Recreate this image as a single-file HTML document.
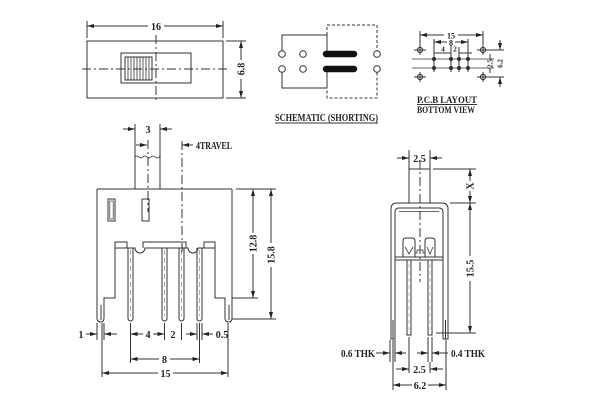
<!DOCTYPE html>
<html><head><meta charset="utf-8"><style>
html,body{margin:0;padding:0;background:#fff;}
svg{display:block;}
text{font-family:"Liberation Serif",serif;font-weight:bold;fill:#222;}
</style></head><body>
<svg width="600" height="400" viewBox="0 0 600 400" xmlns="http://www.w3.org/2000/svg">
<defs>
<marker id="a" markerWidth="7" markerHeight="4" refX="7" refY="2" orient="auto" markerUnits="userSpaceOnUse"><path d="M0,0 L7,2 L0,4 z" fill="#222"/></marker>
</defs>
<g stroke="#333" stroke-width="1" fill="none">
<!-- TOP VIEW -->
<rect x="87" y="41" width="136" height="57"/>
<line x1="87" y1="21" x2="87" y2="38"/><line x1="223" y1="21" x2="223" y2="38"/>
<line x1="148" y1="26" x2="87" y2="26" marker-end="url(#a)"/>
<line x1="164" y1="26" x2="223" y2="26" marker-end="url(#a)"/>
<rect x="121" y="53" width="70" height="30"/>
<rect x="125" y="57" width="27" height="23"/>
<g stroke-width="0.8">
<line x1="128" y1="57" x2="128" y2="80"/><line x1="131" y1="57" x2="131" y2="80"/><line x1="134" y1="57" x2="134" y2="80"/><line x1="137" y1="57" x2="137" y2="80"/><line x1="140" y1="57" x2="140" y2="80"/><line x1="143" y1="57" x2="143" y2="80"/><line x1="146" y1="57" x2="146" y2="80"/><line x1="149" y1="57" x2="149" y2="80"/>
</g>
<line x1="82" y1="69" x2="228" y2="69" stroke-dasharray="9,3,2,3"/>
<line x1="156" y1="35" x2="156" y2="103" stroke-dasharray="9,3,2,3"/>
<line x1="226" y1="41" x2="246" y2="41"/><line x1="226" y1="98" x2="246" y2="98"/>
<line x1="241" y1="60" x2="241" y2="41" marker-end="url(#a)"/>
<line x1="241" y1="79" x2="241" y2="98" marker-end="url(#a)"/>

<!-- SCHEMATIC -->
<path d="M282,50.5 V35 H327 V51"/>
<path d="M282,72.5 V88 H327 V72"/>
<path d="M327,35 V25 H377 V50.5" stroke-dasharray="3,2"/>
<path d="M377,72.5 V98 H327 V88" stroke-dasharray="3,2"/>
<line x1="326" y1="54" x2="354" y2="54" stroke="#111" stroke-width="6.5" stroke-linecap="round"/>
<line x1="326" y1="69" x2="354" y2="69" stroke="#111" stroke-width="6.5" stroke-linecap="round"/>
<g fill="#fff">
<circle cx="282" cy="54" r="3.3"/><circle cx="282" cy="69" r="3.3"/>
<circle cx="303" cy="54" r="3.3"/><circle cx="303" cy="69" r="3.3"/>
<circle cx="377" cy="54" r="3.3"/><circle cx="377" cy="69" r="3.3"/>
</g>
<line x1="275" y1="123" x2="378" y2="123"/>

<!-- PCB LAYOUT -->
<line x1="420" y1="31" x2="420" y2="46"/><line x1="483" y1="31" x2="483" y2="46"/>
<line x1="444" y1="35" x2="420" y2="35" marker-end="url(#a)"/>
<line x1="458" y1="35" x2="483" y2="35" marker-end="url(#a)"/>
<line x1="434" y1="39" x2="434" y2="56"/><line x1="468" y1="39" x2="468" y2="56"/>
<line x1="447" y1="42" x2="434" y2="42" marker-end="url(#a)"/>
<line x1="455" y1="42" x2="468" y2="42" marker-end="url(#a)"/>
<line x1="451" y1="45" x2="451" y2="56"/><line x1="459" y1="47" x2="459" y2="56"/>
<line x1="434" y1="53" x2="451" y2="53"/>
<line x1="459" y1="53" x2="472" y2="53"/>
<line x1="412" y1="59" x2="494" y2="59" stroke-width="0.8"/>
<line x1="412" y1="68" x2="494" y2="68" stroke-width="0.8"/>
<g>
<circle cx="420" cy="50" r="2.6"/><line x1="414" y1="50" x2="426" y2="50"/><line x1="420" y1="45" x2="420" y2="55"/>
<circle cx="483" cy="50" r="2.6"/><line x1="477" y1="50" x2="489" y2="50"/><line x1="483" y1="45" x2="483" y2="55"/>
<circle cx="420" cy="77" r="2.6"/><line x1="414" y1="77" x2="426" y2="77"/><line x1="420" y1="72" x2="420" y2="82"/>
<circle cx="483" cy="77" r="2.6"/><line x1="477" y1="77" x2="489" y2="77"/><line x1="483" y1="72" x2="483" y2="82"/>
</g>
<g fill="#222">
<circle cx="434" cy="59" r="1.6"/><circle cx="451" cy="59" r="1.6"/><circle cx="459" cy="59" r="1.6"/><circle cx="468" cy="59" r="1.6"/>
<circle cx="434" cy="68" r="1.6"/><circle cx="451" cy="68" r="1.6"/><circle cx="459" cy="68" r="1.6"/><circle cx="468" cy="68" r="1.6"/>
</g>
<line x1="434" y1="55" x2="434" y2="72"/><line x1="451" y1="56" x2="451" y2="72"/><line x1="459" y1="56" x2="459" y2="72"/><line x1="468" y1="56" x2="468" y2="72"/>
<line x1="486" y1="50" x2="504" y2="50"/><line x1="486" y1="77" x2="504" y2="77"/>
<line x1="500" y1="40" x2="500" y2="50" marker-end="url(#a)"/>
<line x1="500" y1="87" x2="500" y2="77" marker-end="url(#a)"/>
<line x1="490" y1="54" x2="490" y2="59"/><line x1="490" y1="73" x2="490" y2="68"/>
<line x1="417" y1="104.5" x2="477" y2="104.5"/>

<!-- FRONT VIEW -->
<line x1="97" y1="189" x2="232" y2="189"/>
<path d="M97,189 V318 Q97,322 100.5,322 Q104,322 104,318 V298 H115 V242"/>
<path d="M232,189 V318 Q232,322 228.5,322 Q225,322 225,318 V298 H215 V242"/>
<line x1="101" y1="305" x2="101" y2="320"/><line x1="229" y1="305" x2="229" y2="320"/>
<rect x="115" y="242" width="12" height="6"/>
<rect x="204" y="242" width="11" height="6"/>
<path d="M143,248 V242 H186 V248"/>
<path d="M115,248 H135 A5,5 0 0 0 145,248 H188 A5,5 0 0 0 198,248 H215"/>
<g>
<path d="M128,248 V318 Q128,321 130.5,321 Q133,321 133,318 V248"/>
<path d="M162,248 V318 Q162,321 164.5,321 Q167,321 167,318 V248"/>
<path d="M179,248 V318 Q179,321 181.5,321 Q184,321 184,318 V248"/>
<path d="M197,248 V318 Q197,321 199.5,321 Q202,321 202,318 V248"/>
</g>
<g stroke="#999" stroke-dasharray="5,3" stroke-width="0.8">
<line x1="130.5" y1="250" x2="130.5" y2="316"/><line x1="164.5" y1="250" x2="164.5" y2="316"/>
<line x1="181.5" y1="250" x2="181.5" y2="316"/><line x1="199.5" y1="250" x2="199.5" y2="316"/>
</g>
<rect x="108" y="199" width="7" height="22"/><rect x="109.8" y="201" width="3.4" height="18" stroke-width="0.7"/>
<rect x="142" y="199" width="7" height="22"/>
<line x1="135" y1="124" x2="135" y2="189"/><line x1="160" y1="124" x2="160" y2="189"/>
<path d="M135,157 q2,-2 4,0 t4,0 t4,0 t4,0 t4,0 t4,0 t1,0" stroke-width="0.8"/>
<line x1="123" y1="129" x2="135" y2="129" marker-end="url(#a)"/>
<line x1="172" y1="129" x2="160" y2="129" marker-end="url(#a)"/>
<line x1="136" y1="145" x2="147" y2="145" marker-end="url(#a)"/>
<line x1="148" y1="140" x2="148" y2="212" stroke-dasharray="9,3,2,3"/>
<line x1="182" y1="141" x2="182" y2="252" stroke-dasharray="9,3,2,3"/>
<line x1="193" y1="145" x2="182" y2="145" marker-end="url(#a)"/>
<line x1="236" y1="189" x2="276" y2="189"/>
<line x1="232" y1="298" x2="258" y2="298"/>
<line x1="232" y1="319" x2="276" y2="319"/>
<line x1="253" y1="233" x2="253" y2="189" marker-end="url(#a)"/>
<line x1="253" y1="254" x2="253" y2="298" marker-end="url(#a)"/>
<line x1="271" y1="243" x2="271" y2="189" marker-end="url(#a)"/>
<line x1="271" y1="267" x2="271" y2="319" marker-end="url(#a)"/>
<!-- bottom dims -->
<line x1="97" y1="323" x2="97" y2="340"/><line x1="104" y1="323" x2="104" y2="340"/>
<line x1="86" y1="334" x2="97" y2="334" marker-end="url(#a)"/>
<line x1="117" y1="334" x2="104" y2="334" marker-end="url(#a)"/>
<line x1="130.5" y1="323" x2="130.5" y2="363"/>
<line x1="164.5" y1="323" x2="164.5" y2="340"/><line x1="181.5" y1="323" x2="181.5" y2="340"/>
<line x1="197" y1="323" x2="197" y2="340"/><line x1="202" y1="323" x2="202" y2="340"/>
<line x1="199.5" y1="323" x2="199.5" y2="363"/>
<line x1="143" y1="334" x2="130.5" y2="334" marker-end="url(#a)"/>
<line x1="153" y1="334" x2="164.5" y2="334" marker-end="url(#a)"/>
<line x1="186" y1="334" x2="197" y2="334" marker-end="url(#a)"/>
<line x1="213" y1="334" x2="202" y2="334" marker-end="url(#a)"/>
<line x1="159" y1="359" x2="130.5" y2="359" marker-end="url(#a)"/>
<line x1="170" y1="359" x2="199.5" y2="359" marker-end="url(#a)"/>
<line x1="102" y1="323" x2="102" y2="377"/><line x1="228" y1="323" x2="228" y2="377"/>
<line x1="158" y1="373" x2="102" y2="373" marker-end="url(#a)"/>
<line x1="173" y1="373" x2="228" y2="373" marker-end="url(#a)"/>

<!-- SIDE VIEW -->
<rect x="409" y="169" width="21" height="34"/>
<line x1="409" y1="150" x2="409" y2="169"/><line x1="430" y1="150" x2="430" y2="169"/>
<line x1="397" y1="158" x2="409" y2="158" marker-end="url(#a)"/>
<line x1="442" y1="158" x2="430" y2="158" marker-end="url(#a)"/>
<line x1="420" y1="160" x2="420" y2="282" stroke-dasharray="9,3,2,3"/>
<path d="M391,339 V209 Q391,203 397,203 H442 Q448,203 448,209 V339 H443 V212 Q443,208 439,208 H399 Q395,208 395,212 V339 Z"/>
<line x1="399" y1="211.5" x2="439" y2="211.5" stroke-width="0.8"/>
<line x1="393" y1="320" x2="393" y2="339"/><line x1="445.5" y1="320" x2="445.5" y2="339"/>
<path d="M403,257 V241 Q403,238 406,238 H412 Q415,238 415,241 V257"/>
<path d="M425,257 V241 Q425,238 428,238 H432 Q435,238 435,241 V257"/>
<path d="M405,247 L409,254 L413,247" stroke-width="0.8"/>
<path d="M427,247 L430,254 L433,247" stroke-width="0.8"/>
<path d="M415,253 H417 V250 H423 V253 H425" stroke-width="0.8"/>
<line x1="395" y1="257" x2="443" y2="257"/>
<line x1="395" y1="260" x2="443" y2="260"/>
<path d="M407,260 V335 H411 V260"/>
<path d="M428,260 V335 H432 V260"/>
<g stroke="#aaa" stroke-dasharray="4,3" stroke-width="0.7">
<line x1="409" y1="264" x2="409" y2="330"/><line x1="430" y1="264" x2="430" y2="330"/>
</g>
<line x1="433" y1="169" x2="476" y2="169"/><line x1="450" y1="203" x2="476" y2="203"/>
<line x1="470" y1="181" x2="470" y2="169" marker-end="url(#a)"/>
<line x1="470" y1="191" x2="470" y2="203" marker-end="url(#a)"/>
<line x1="470" y1="256" x2="470" y2="203" marker-end="url(#a)"/>
<line x1="470" y1="281" x2="470" y2="333" marker-end="url(#a)"/>
<line x1="436" y1="333" x2="476" y2="333"/>
<!-- bottom side dims -->
<line x1="390" y1="340" x2="390" y2="362"/><line x1="395" y1="340" x2="395" y2="362"/>
<line x1="376" y1="353" x2="390" y2="353" marker-end="url(#a)"/>
<line x1="406" y1="353" x2="395" y2="353" marker-end="url(#a)"/>
<line x1="428" y1="337" x2="428" y2="362"/><line x1="432" y1="337" x2="432" y2="362"/>
<line x1="417" y1="353" x2="428" y2="353" marker-end="url(#a)"/>
<line x1="448" y1="353" x2="432" y2="353" marker-end="url(#a)"/>
<line x1="409" y1="337" x2="409" y2="373"/><line x1="430" y1="362" x2="430" y2="373"/>
<line x1="396" y1="369" x2="409" y2="369" marker-end="url(#a)"/>
<line x1="443" y1="369" x2="430" y2="369" marker-end="url(#a)"/>
<line x1="393" y1="340" x2="393" y2="390"/><line x1="446" y1="340" x2="446" y2="390"/>
<line x1="412" y1="385" x2="393" y2="385" marker-end="url(#a)"/>
<line x1="428" y1="385" x2="446" y2="385" marker-end="url(#a)"/>
</g>

<!-- TEXT -->
<g font-size="10">
<text x="156" y="30" text-anchor="middle">16</text>
<text transform="translate(244.5,69) rotate(-90)" text-anchor="middle">6.8</text>
<text x="275" y="121" font-size="10.5" textLength="103" lengthAdjust="spacingAndGlyphs">SCHEMATIC (SHORTING)</text>
<text x="417" y="103" font-size="9.5" textLength="60" lengthAdjust="spacingAndGlyphs">P.C.B LAYOUT</text>
<text x="417" y="113" font-size="9.5" textLength="58" lengthAdjust="spacingAndGlyphs">BOTTOM VIEW</text>
<text x="451" y="38.5" font-size="8" text-anchor="middle">15</text>
<text x="451" y="45.5" font-size="8" text-anchor="middle">8</text>
<text x="443" y="51.5" font-size="7.5" text-anchor="middle">4</text>
<text x="455" y="51.5" font-size="7.5" text-anchor="middle">2</text>
<text transform="translate(492.5,63.5) rotate(-90)" font-size="7" text-anchor="middle">2.5</text>
<text transform="translate(502.5,63.5) rotate(-90)" font-size="7" text-anchor="middle">6.2</text>
<text x="148" y="133" text-anchor="middle">3</text>
<text x="196" y="149" textLength="36" lengthAdjust="spacingAndGlyphs">4TRAVEL</text>
<text transform="translate(256.5,243.5) rotate(-90)" text-anchor="middle">12.8</text>
<text transform="translate(274.5,255) rotate(-90)" text-anchor="middle">15.8</text>
<text x="81" y="338" text-anchor="middle">1</text>
<text x="148" y="338" text-anchor="middle">4</text>
<text x="173" y="338" text-anchor="middle">2</text>
<text x="222" y="338" text-anchor="middle">0.5</text>
<text x="164.5" y="363" text-anchor="middle">8</text>
<text x="165.5" y="377" text-anchor="middle">15</text>
<text x="419.5" y="162" text-anchor="middle">2.5</text>
<text transform="translate(473.5,186) rotate(-90)" text-anchor="middle">X</text>
<text transform="translate(473.5,268.5) rotate(-90)" text-anchor="middle">15.5</text>
<text x="341" y="357" textLength="34" lengthAdjust="spacingAndGlyphs">0.6 THK</text>
<text x="451" y="357" textLength="34" lengthAdjust="spacingAndGlyphs">0.4 THK</text>
<text x="419.5" y="373" text-anchor="middle">2.5</text>
<text x="420" y="389" text-anchor="middle">6.2</text>
</g>
</svg>
</body></html>
